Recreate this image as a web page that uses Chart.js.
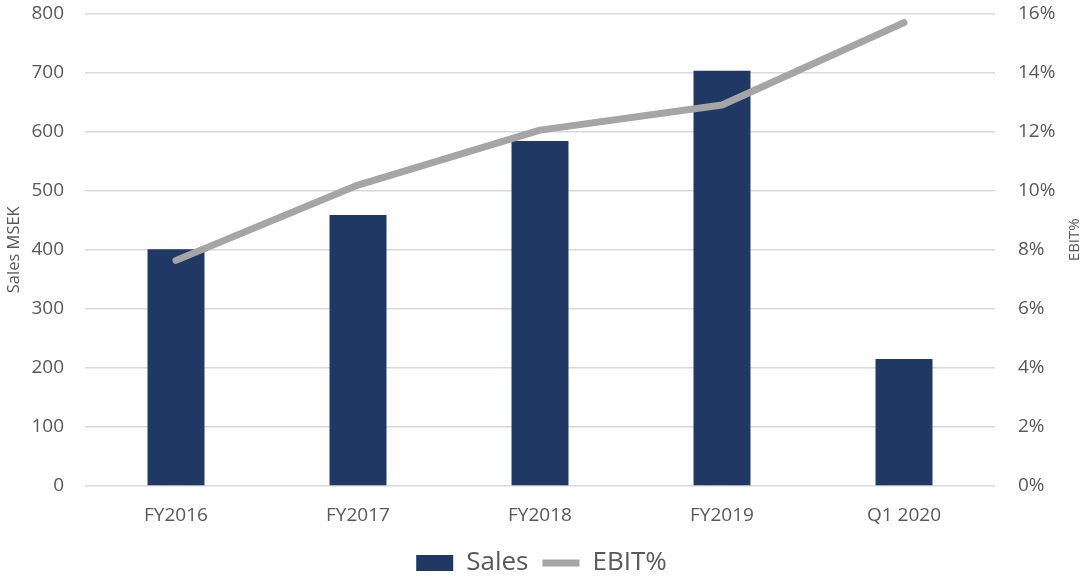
<!DOCTYPE html>
<html>
<head>
<meta charset="utf-8">
<script src="https://cdn.jsdelivr.net/npm/chart.js@4.4.1/dist/chart.umd.min.js"></script>
<style>
  html, body { margin: 0; padding: 0; background: #fff; }
  #wrap { width: 1083px; height: 579px; }
</style>
</head>
<body>
<div id="wrap"><canvas id="chart"></canvas></div>
<script>
// values
const periods = ["FY2016", "FY2017", "FY2018", "FY2019", "Q1 2020"];
const sales = [401, 459, 584, 703, 215];          // MSEK
const ebitPct = [7.64, 10.19, 12.05, 12.9, 15.69]; // %

const tickColor = "#595959";
const fontFam = "'Open Sans', 'DejaVu Sans', sans-serif";

// right axis title reads bottom-to-top in the original, so draw it here
const rightTitle = {
  id: "rightTitle",
  afterDraw(chart) {
    const ctx = chart.ctx;
    const area = chart.chartArea;
    ctx.save();
    ctx.translate(1075, (area.top + area.bottom) / 2 - 10);
    ctx.rotate(-Math.PI / 2);
    ctx.fillStyle = tickColor;
    ctx.font = "15px " + fontFam;
    ctx.textAlign = "center";
    ctx.textBaseline = "middle";
    ctx.fillText("EBIT%", 0, 0);
    ctx.restore();
  }
};

new Chart(document.getElementById("chart"), {
  data: {
    labels: periods,
    datasets: [
      {
        type: "line",
        label: "EBIT%",
        data: ebitPct,
        yAxisID: "y1",
        borderColor: "#A5A5A5",
        backgroundColor: "#A5A5A5",
        borderWidth: 7,
        borderCapStyle: "round",
        borderJoinStyle: "round",
        pointRadius: 0,
        pointHoverRadius: 0,
        pointStyle: "line",
        tension: 0,
        order: 1
      },
      {
        type: "bar",
        label: "Sales",
        data: sales,
        yAxisID: "y",
        backgroundColor: "#203864",
        borderWidth: 0,
        barPercentage: 0.313,
        categoryPercentage: 1,
        pointStyle: "rect",
        order: 2
      }
    ]
  },
  options: {
    responsive: true,
    maintainAspectRatio: false,
    animation: false,
    layout: { padding: { top: 13.5, left: 0, right: 0, bottom: -7 } },
    plugins: {
      tooltip: { enabled: false },
      legend: {
        position: "bottom",
        reverse: true,
        labels: {
          usePointStyle: true,
          pointStyleWidth: 37,
          boxHeight: 16,
          padding: 14,
          color: tickColor,
          font: { family: fontFam, size: 26 }
        }
      }
    },
    scales: {
      x: {
        grid: { display: false, drawTicks: false },
        border: { display: false },
        ticks: { color: tickColor, font: { family: fontFam, size: 19 }, padding: 18 },
        afterFit(s) { s.height = 50; }
      },
      y: {
        position: "left",
        min: 0,
        max: 800,
        ticks: { stepSize: 100, color: tickColor, font: { family: fontFam, size: 19 }, padding: 21 },
        grid: { color: "#D9D9D9", lineWidth: 1.5, drawTicks: false },
        border: { display: false },
        title: {
          display: true,
          text: "Sales MSEK",
          color: tickColor,
          font: { family: fontFam, size: 16.5 },
          padding: { top: 4, bottom: 0 }
        },
        afterFit(s) { s.width = 85; s.paddingTop = 0; s.paddingBottom = 0; }
      },
      y1: {
        position: "right",
        min: 0,
        max: 16,
        ticks: {
          stepSize: 2,
          color: tickColor,
          font: { family: fontFam, size: 19 },
          padding: 23,
          callback: v => v + "%"
        },
        grid: { drawOnChartArea: false, drawTicks: false },
        border: { display: false },
        afterFit(s) { s.width = 88; s.paddingTop = 0; s.paddingBottom = 0; }
      }
    }
  },
  plugins: [rightTitle]
});
</script>
</body>
</html>
